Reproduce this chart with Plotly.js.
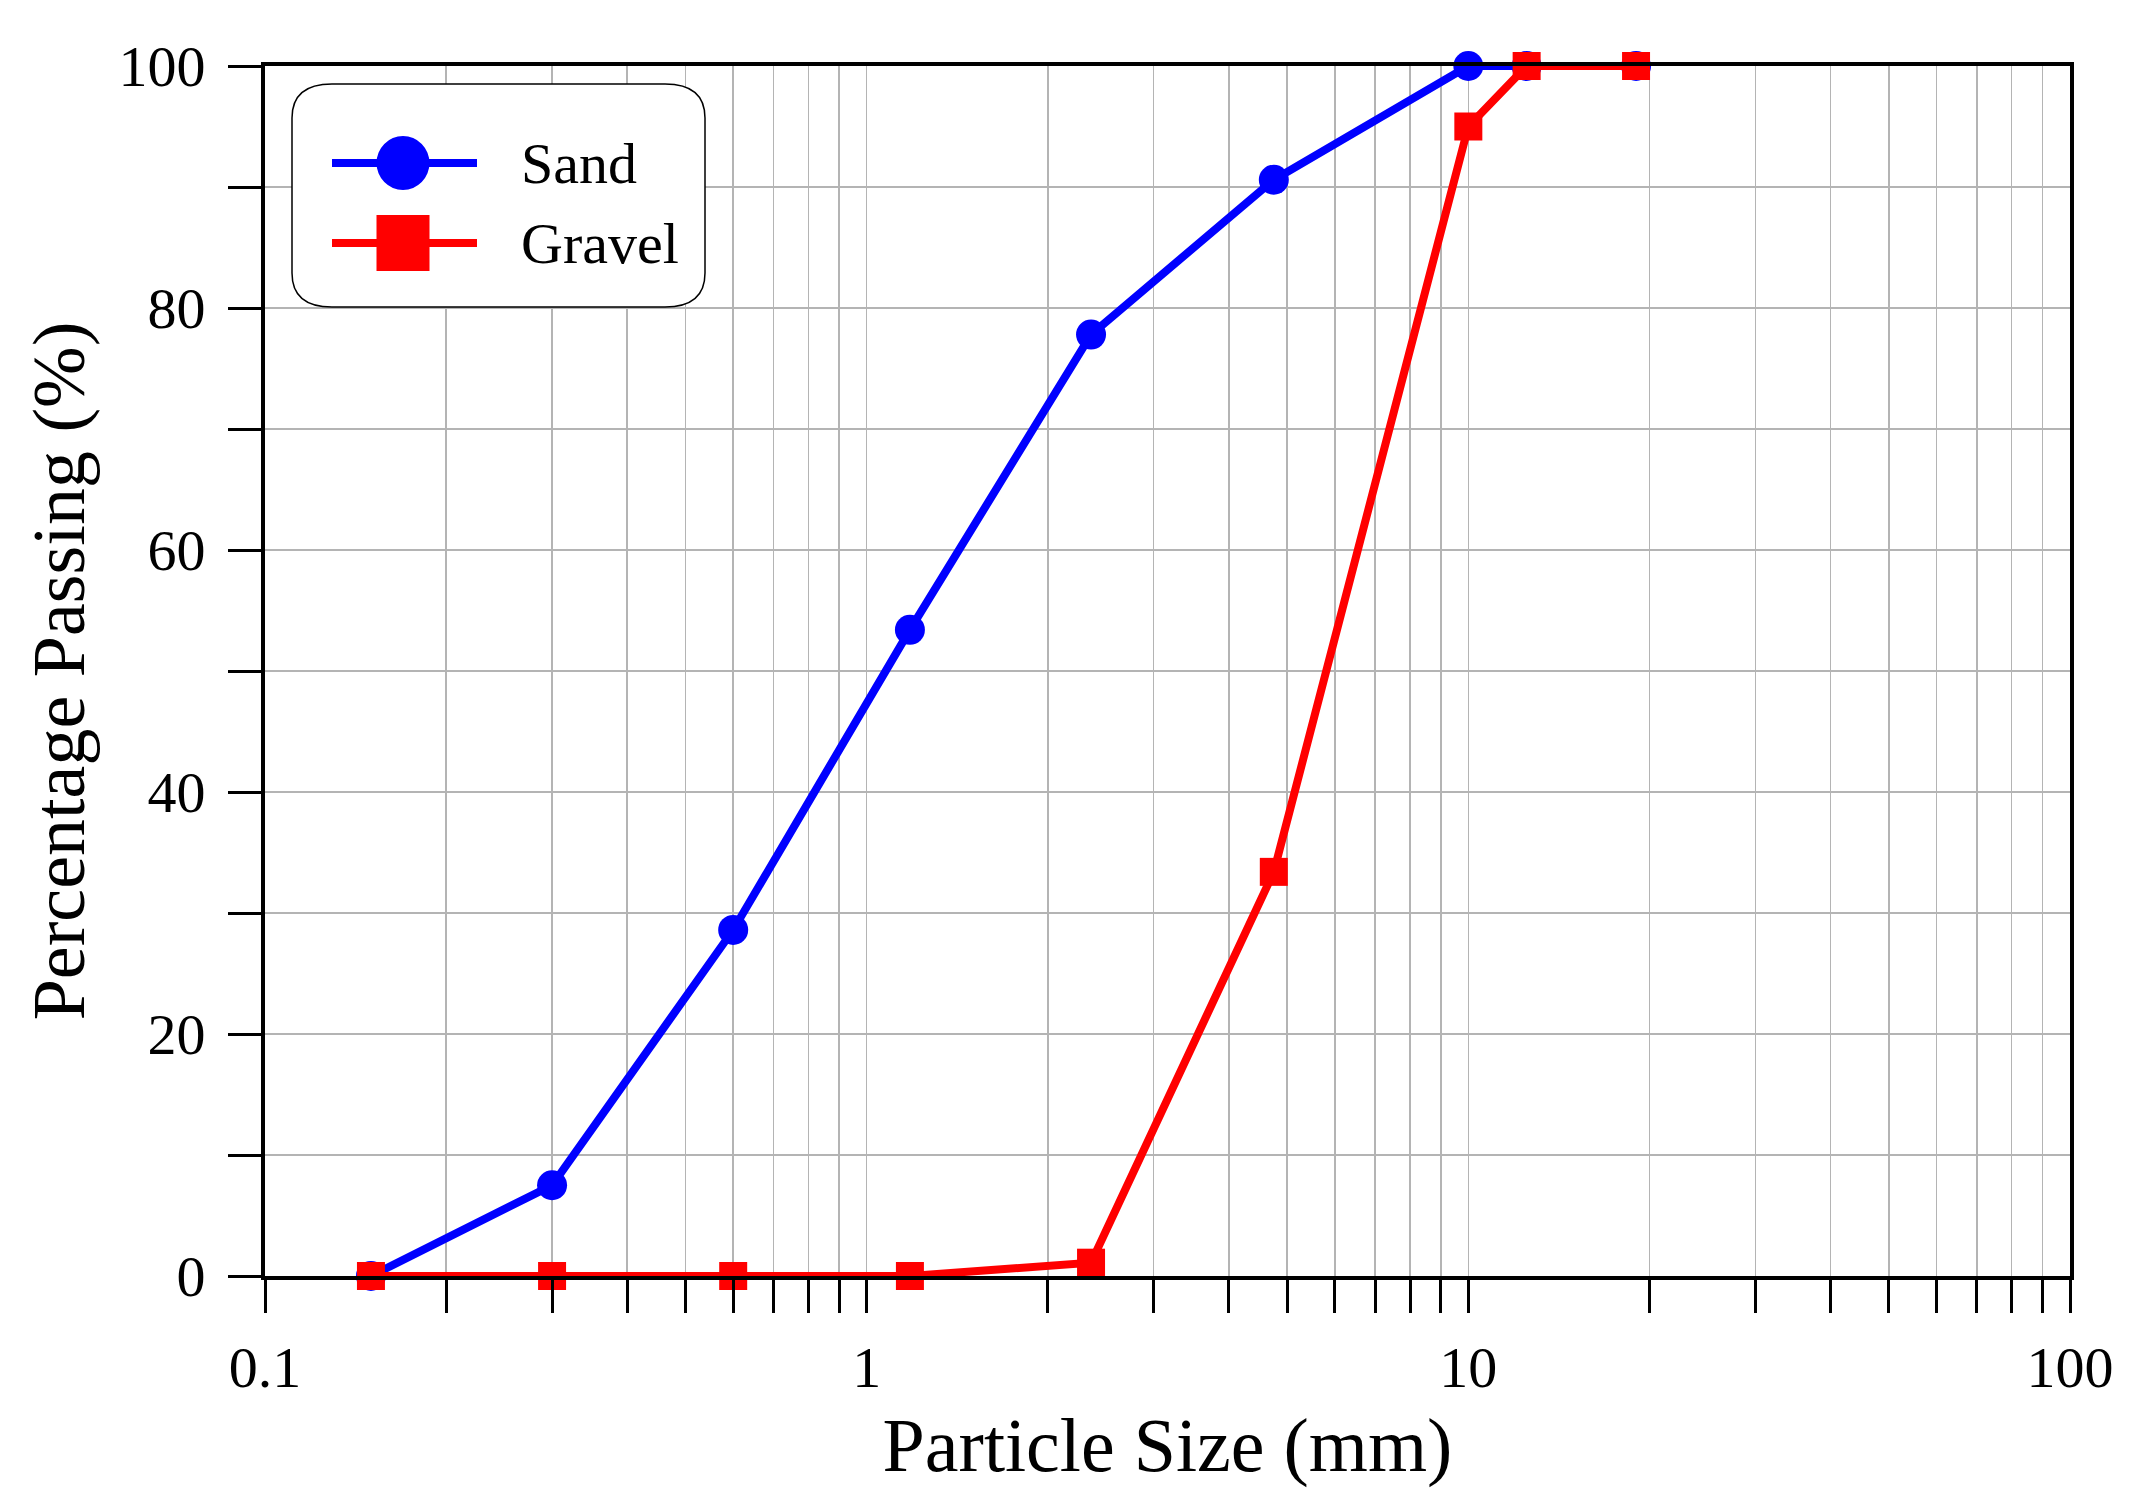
<!DOCTYPE html>
<html>
<head>
<meta charset="utf-8">
<script src="https://cdn.plot.ly/plotly-3.0.1.min.js"></script>
<style>
  html, body { margin: 0; padding: 0; background: #fff; }
  #chart { width: 2148px; height: 1508px; }
</style>
</head>
<body>
<div id="chart"></div>
<script>
// sieve sizes (mm) and percentage passing
var sieveSizes = [0.15, 0.3, 0.6, 1.18, 2.36, 4.75, 10, 12.5, 19];
var sandPassing = [0, 7.5, 28.6, 53.4, 77.8, 90.6, 100, 100, 100];
var gravelPassing = [0, 0, 0, 0, 1.1, 33.4, 95, 100, 100];

var seriesNames = ['Sand', 'Gravel'];
var seriesColors = ['#0000ff', '#ff0000'];

var xDecades = [0.1, 1, 10, 100];
var xDecadeLabels = ['0.1', '1', '10', '100'];
var yTickLabels = ['0', '', '20', '', '40', '', '60', '', '80', '', '100'];

var FONT = 'Liberation Serif, Times New Roman, serif';

// plot area in pixels, used to place the hand-made legend
var W = 2148, H = 1508;
var M = {l: 265, r: 78, t: 66, b: 232};
var plotW = W - M.l - M.r, plotH = H - M.t - M.b;
function px(x) { return (x - M.l) / plotW; }
function py(y) { return (H - M.b - y) / plotH; }

// log ticks: every 1..9 step in each decade, label only the decades
var xTickVals = [], xTickText = [];
for (var d = 0; d < xDecades.length; d++) {
  var steps = d === xDecades.length - 1 ? 1 : 9;
  for (var k = 1; k <= steps; k++) {
    xTickVals.push(xDecades[d] * k);
    xTickText.push(k === 1 ? xDecadeLabels[d] : '');
  }
}
var yTickVals = yTickLabels.map(function (t, i) { return i * 10; });

var sand = {
  x: sieveSizes, y: sandPassing, name: seriesNames[0],
  type: 'scatter', mode: 'lines+markers', cliponaxis: false, showlegend: false,
  line: {color: seriesColors[0], width: 8},
  marker: {symbol: 'circle', size: 30, color: seriesColors[0]}
};
var gravel = {
  x: sieveSizes, y: gravelPassing, name: seriesNames[1],
  type: 'scatter', mode: 'lines+markers', cliponaxis: false, showlegend: false,
  line: {color: seriesColors[1], width: 8},
  marker: {symbol: 'square', size: 28, color: seriesColors[1]}
};

// legend box with rounded corners
var bx0 = px(292), bx1 = px(705), by0 = py(307), by1 = py(84);
var rx = 40 / plotW, ry = 34 / plotH;
var boxPath = 'M' + (bx0 + rx) + ',' + by1 +
  ' L' + (bx1 - rx) + ',' + by1 + ' Q' + bx1 + ',' + by1 + ' ' + bx1 + ',' + (by1 - ry) +
  ' L' + bx1 + ',' + (by0 + ry) + ' Q' + bx1 + ',' + by0 + ' ' + (bx1 - rx) + ',' + by0 +
  ' L' + (bx0 + rx) + ',' + by0 + ' Q' + bx0 + ',' + by0 + ' ' + bx0 + ',' + (by0 + ry) +
  ' L' + bx0 + ',' + (by1 - ry) + ' Q' + bx0 + ',' + by1 + ' ' + (bx0 + rx) + ',' + by1 + ' Z';

var shapes = [{
  type: 'path', xref: 'paper', yref: 'paper', path: boxPath, layer: 'above',
  fillcolor: '#ffffff', line: {color: '#000000', width: 1.5}
}];
var annotations = [];
var itemY = [163, 243];
var symbolX = 403;
for (var i = 0; i < seriesNames.length; i++) {
  var yc = py(itemY[i]);
  shapes.push({
    type: 'line', xref: 'paper', yref: 'paper', layer: 'above',
    x0: px(332), x1: px(477), y0: yc, y1: yc,
    line: {color: seriesColors[i], width: 8}
  });
  shapes.push({
    type: i === 0 ? 'circle' : 'rect', layer: 'above',
    xref: 'paper', yref: 'paper', xsizemode: 'pixel', ysizemode: 'pixel',
    xanchor: px(symbolX), yanchor: yc,
    x0: -26.5, x1: 26.5, y0: i === 0 ? -27 : -28, y1: i === 0 ? 27 : 28,
    fillcolor: seriesColors[i], line: {width: 0}
  });
  annotations.push({
    xref: 'paper', yref: 'paper', x: px(519), y: yc,
    xanchor: 'left', yanchor: 'middle', showarrow: false,
    text: seriesNames[i], font: {family: FONT, size: 58, color: '#000'}
  });
}

var layout = {
  width: W, height: H,
  margin: M,
  paper_bgcolor: '#ffffff', plot_bgcolor: '#ffffff',
  font: {family: FONT, size: 58, color: '#000000'},
  showlegend: false,
  xaxis: {
    type: 'log', range: [-1, 2],
    tickmode: 'array', tickvals: xTickVals, ticktext: xTickText,
    ticks: 'outside', ticklen: 33, tickwidth: 3, tickcolor: '#000',
    ticklabelstandoff: 4,
    showline: true, linecolor: '#000', linewidth: 4, mirror: true,
    showgrid: true, gridcolor: '#b4b4b4', gridwidth: 1.5,
    zeroline: false,
    tickfont: {family: FONT, size: 58},
    title: {text: 'Particle Size (mm)', font: {family: FONT, size: 76}, standoff: 20}
  },
  yaxis: {
    range: [0, 100],
    tickmode: 'array', tickvals: yTickVals, ticktext: yTickLabels,
    ticks: 'outside', ticklen: 33, tickwidth: 3, tickcolor: '#000',
    ticklabelstandoff: 11,
    showline: true, linecolor: '#000', linewidth: 4, mirror: true,
    showgrid: true, gridcolor: '#b4b4b4', gridwidth: 1.5,
    zeroline: false,
    tickfont: {family: FONT, size: 58},
    title: {text: 'Percentage Passing (%)', font: {family: FONT, size: 74}, standoff: 11}
  },
  shapes: shapes,
  annotations: annotations
};

Plotly.newPlot('chart', [sand, gravel], layout, {displayModeBar: false, staticPlot: true});
</script>
</body>
</html>
